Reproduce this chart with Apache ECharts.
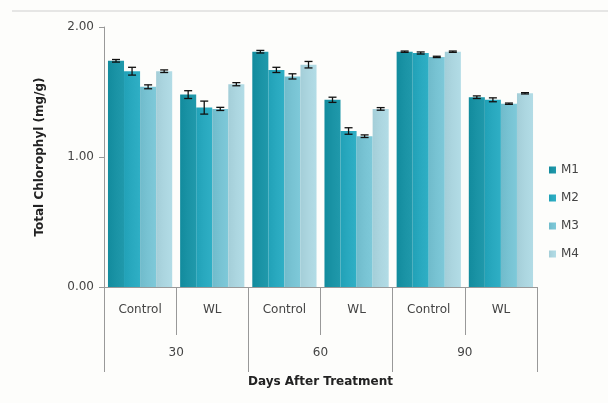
<!DOCTYPE html>
<html>
<head>
<meta charset="utf-8">
<script src="https://cdn.jsdelivr.net/npm/echarts@6/dist/echarts.min.js"></script>
<style>
html,body{margin:0;padding:0;background:#fdfdfb;}
#c{width:608px;height:403px;}
</style>
</head>
<body>
<div id="c"></div>
<script>
const categories = ['Control','WL','Control','WL','Control','WL'];
const days = ['30','60','90'];
const seriesNames = ['M1','M2','M3','M4'];
const M1 = [1.74, 1.48, 1.81, 1.44, 1.81, 1.46];
const M2 = [1.66, 1.38, 1.67, 1.20, 1.80, 1.44];
const M3 = [1.54, 1.37, 1.62, 1.16, 1.77, 1.41];
const M4 = [1.66, 1.56, 1.71, 1.37, 1.81, 1.49];
const E1 = [0.010, 0.030, 0.010, 0.020, 0.005, 0.010];
const E2 = [0.030, 0.050, 0.020, 0.025, 0.008, 0.015];
const E3 = [0.015, 0.012, 0.020, 0.010, 0.005, 0.005];
const E4 = [0.010, 0.012, 0.025, 0.010, 0.005, 0.005];
const yTicks = [0, 1, 2];

const values = [M1, M2, M3, M4];
const errors = [E1, E2, E3, E4];
const colors = ['#1a93a5', '#29a9bf', '#78c3d3', '#acd6e0'];
const gap = 0.11;

function shade(c, amt) {
  const n = parseInt(c.slice(1), 16);
  let r = (n >> 16) & 255, g = (n >> 8) & 255, b = n & 255;
  r = Math.max(0, Math.min(255, Math.round(r + amt)));
  g = Math.max(0, Math.min(255, Math.round(g + amt)));
  b = Math.max(0, Math.min(255, Math.round(b + amt)));
  return 'rgb(' + r + ',' + g + ',' + b + ')';
}

const chart = echarts.init(document.getElementById('c'), null, {renderer: 'canvas'});

const barSeries = seriesNames.map((name, i) => ({
  name: name,
  type: 'bar',
  xAxisIndex: 0,
  data: values[i],
  barGap: '0%',
  barCategoryGap: (gap * 100) + '%',
  itemStyle: {
    color: new echarts.graphic.LinearGradient(0, 0, 1, 0, [
      {offset: 0, color: shade(colors[i], -8)},
      {offset: 0.5, color: colors[i]},
      {offset: 1, color: shade(colors[i], 6)}
    ])
  }
}));

const errSeries = seriesNames.map((name, i) => ({
  type: 'custom',
  xAxisIndex: 0,
  silent: true,
  z: 5,
  data: values[i].map((v, k) => [k, v, errors[i][k]]),
  renderItem: function (params, api) {
    const k = api.value(0), v = api.value(1), e = api.value(2);
    const catW = api.size([1, 0])[0];
    const barW = catW * (1 - gap) / 4;
    const center = api.coord([k, v]);
    const x = center[0] + (i - 1.5) * barW;
    const yHi = api.coord([k, v + e])[1];
    const yLo = api.coord([k, v - e])[1];
    const cap = 4;
    const st = {stroke: '#111', lineWidth: 1.3};
    return {
      type: 'group',
      children: [
        {type: 'line', shape: {x1: x, y1: yHi, x2: x, y2: yLo}, style: st},
        {type: 'line', shape: {x1: x - cap, y1: yHi, x2: x + cap, y2: yHi}, style: st},
        {type: 'line', shape: {x1: x - cap, y1: yLo, x2: x + cap, y2: yLo}, style: st}
      ]
    };
  }
}));

chart.setOption({
  backgroundColor: '#fdfdfb',
  animation: false,
  textStyle: {fontFamily: 'DejaVu Sans'},
  color: colors,
  graphic: [
    {type: 'line', shape: {x1: 12, y1: 11, x2: 608, y2: 11}, style: {stroke: '#cfcfcf', lineWidth: 1}}
  ],
  grid: {left: 104, right: 71, top: 27, bottom: 116},
  legend: {
    orient: 'vertical',
    left: 544,
    top: 159,
    itemWidth: 7,
    itemHeight: 7,
    itemGap: 16,
    icon: 'rect',
    data: seriesNames,
    textStyle: {fontSize: 12, color: '#444', fontFamily: 'DejaVu Sans'}
  },
  xAxis: [
    {
      type: 'category',
      data: categories,
      position: 'bottom',
      axisLine: {lineStyle: {color: '#999'}},
      axisTick: {show: true, interval: 0, length: 48, lineStyle: {color: '#999'}},
      axisLabel: {interval: 0, margin: 17, fontSize: 12, color: '#444'}
    },
    {
      type: 'category',
      data: days,
      position: 'bottom',
      axisLine: {show: false},
      axisTick: {show: true, interval: 0, length: 85, lineStyle: {color: '#999'}},
      axisLabel: {interval: 0, margin: 60, fontSize: 12, color: '#444'},
      name: 'Days After Treatment',
      nameLocation: 'middle',
      nameGap: 89,
      nameTextStyle: {fontWeight: 'bold', fontSize: 12, color: '#222'}
    }
  ],
  yAxis: {
    type: 'value',
    min: 0,
    max: 2,
    interval: 1,
    name: 'Total Chlorophyl (mg/g)',
    nameLocation: 'middle',
    nameGap: 58,
    nameTextStyle: {fontWeight: 'bold', fontSize: 12, color: '#222'},
    axisLine: {show: true, lineStyle: {color: '#999'}},
    axisTick: {show: true, length: 5, lineStyle: {color: '#999'}},
    splitLine: {show: false},
    axisLabel: {fontSize: 12, color: '#444', margin: 10, formatter: v => v.toFixed(2)}
  },
  series: barSeries.concat(errSeries)
});
</script>
</body>
</html>
